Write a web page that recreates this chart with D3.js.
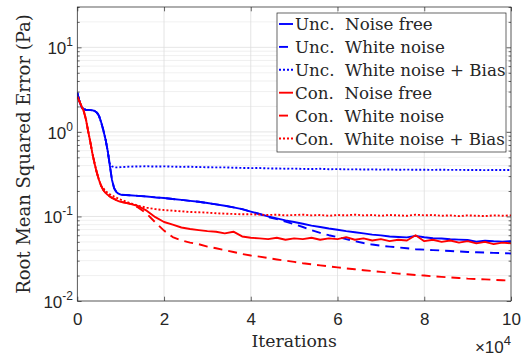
<!DOCTYPE html>
<html><head><meta charset="utf-8">
<script src="https://cdn.jsdelivr.net/npm/d3@7"></script>
<style>body{margin:0;background:#fff}</style>
</head><body><svg id="c" width="521" height="360"></svg>
<script>
// Iterations (x 10^4)
const iters = [0,0.05,0.1,0.15,0.2,0.25,0.3,0.35,0.4,0.45,0.5,0.55,0.6,0.65,0.7,0.75,0.8,0.85,0.9,0.95,1.0,
  1.2,1.4,1.6,1.8,2.0,2.2,2.4,2.6,2.8,3.0,3.2,3.4,3.6,3.8,4.0,4.2,4.4,4.6,4.8,5.0,5.2,5.4,5.6,5.8,6.0,
  6.2,6.4,6.6,6.8,7.0,7.2,7.4,7.6,7.8,8.0,8.2,8.4,8.6,8.8,9.0,9.2,9.4,9.6,9.8,10];

const uncNoiseFree = [2.9,2.3,1.95,1.85,1.83,1.82,1.81,1.8,1.77,1.7,1.55,1.3,1.05,0.82,0.6,0.4,0.27,0.215,0.195,0.186,0.181,
  0.178,0.175,0.172,0.168,0.165,0.161,0.157,0.153,0.149,0.144,0.139,0.134,0.128,0.122,0.114,0.107,0.1,0.095,0.09,0.086,
  0.082,0.078,0.075,0.072,0.0695,0.067,0.065,0.063,0.061,0.0598,0.058,0.0572,0.0565,0.059,0.0568,0.0552,0.0548,0.0538,
  0.0532,0.0526,0.0502,0.0516,0.0508,0.0504,0.051];

const uncWhiteNoise = [2.9,2.3,1.95,1.85,1.83,1.82,1.81,1.8,1.77,1.7,1.55,1.3,1.05,0.82,0.6,0.4,0.27,0.215,0.195,0.186,0.181,
  0.178,0.175,0.172,0.168,0.165,0.161,0.157,0.153,0.149,0.144,0.139,0.134,0.128,0.122,0.114,0.107,0.098,0.093,0.087,0.081,
  0.075,0.069,0.064,0.06,0.057,0.054,0.051,0.0485,0.0465,0.045,0.044,0.043,0.042,0.041,0.0405,0.04,0.0395,0.039,
  0.0385,0.038,0.0377,0.0374,0.0371,0.0368,0.0365];

const uncWhiteNoiseBias = [2.9,2.3,1.95,1.85,1.83,1.82,1.81,1.8,1.77,1.7,1.55,1.3,1.05,0.82,0.6,0.42,0.39,0.382,0.38,0.381,0.383,
  0.388,0.39,0.392,0.389,0.391,0.388,0.386,0.387,0.384,0.382,0.38,0.381,0.377,0.375,0.373,0.374,0.37,0.369,0.367,0.368,
  0.365,0.364,0.366,0.362,0.363,0.36,0.361,0.359,0.36,0.358,0.359,0.357,0.358,0.356,0.357,0.355,0.357,0.355,0.356,
  0.354,0.355,0.353,0.355,0.354,0.355];

const conNoiseFree = [2.6,2.3,2.0,1.75,1.4,1.02,0.76,0.55,0.42,0.33,0.27,0.23,0.205,0.19,0.18,0.172,0.166,0.161,0.156,0.152,0.149,
  0.142,0.133,0.117,0.098,0.086,0.08,0.074,0.071,0.069,0.067,0.066,0.063,0.066,0.058,0.056,0.055,0.054,0.056,0.053,0.055,
  0.054,0.056,0.053,0.055,0.054,0.057,0.053,0.055,0.052,0.054,0.051,0.053,0.052,0.06,0.051,0.053,0.05,0.052,0.049,
  0.051,0.048,0.05,0.047,0.049,0.048];

const conWhiteNoise = [2.6,2.3,2.0,1.75,1.4,1.02,0.76,0.55,0.42,0.33,0.27,0.23,0.205,0.19,0.18,0.172,0.166,0.161,0.156,0.152,0.149,
  0.142,0.128,0.108,0.085,0.068,0.057,0.052,0.049,0.047,0.044,0.042,0.04,0.038,0.036,0.0345,0.0335,0.0322,0.031,0.03,0.029,
  0.028,0.0272,0.0264,0.0257,0.025,0.0243,0.0237,0.0231,0.0226,0.0221,0.0216,0.0211,0.0207,0.0203,0.02,0.0196,0.0193,
  0.019,0.0187,0.0184,0.0182,0.018,0.0178,0.0176,0.0174];

const conWhiteNoiseBias = [2.6,2.3,2.0,1.75,1.4,1.02,0.76,0.55,0.42,0.33,0.27,0.23,0.215,0.2,0.19,0.183,0.177,0.172,0.167,0.162,0.158,
  0.145,0.134,0.127,0.122,0.119,0.117,0.115,0.113,0.112,0.111,0.109,0.108,0.107,0.106,0.106,0.105,0.104,0.105,0.103,0.104,
  0.105,0.103,0.104,0.102,0.104,0.103,0.105,0.103,0.104,0.102,0.104,0.103,0.102,0.105,0.103,0.104,0.102,0.103,0.101,
  0.103,0.102,0.101,0.103,0.102,0.103];

const seriesNames = ["Unc.  Noise free","Unc.  White noise","Unc.  White noise + Bias",
                     "Con.  Noise free","Con.  White noise","Con.  White noise + Bias"];
const seriesValues = [uncNoiseFree,uncWhiteNoise,uncWhiteNoiseBias,conNoiseFree,conWhiteNoise,conWhiteNoiseBias];
const seriesColors = ["#0000ff","#0000ff","#0000ff","#ff0000","#ff0000","#ff0000"];
const seriesDash = [null,"9,6","2,2",null,"9,6","2,2"];

const xTicks = [0,2,4,6,8,10];
const yTickExps = [-2,-1,0,1];
const xLabel = "Iterations";
const yLabel = "Root Mean Squared Error (Pa)";

const svg = d3.select("#c");
const L=77.3, R=511, T=7, B=301;
const x = d3.scaleLinear().domain([0,10]).range([L,R]);
const y = d3.scaleLog().domain([0.01,30]).range([B,T]);

svg.append("rect").attr("x",0).attr("y",0).attr("width",521).attr("height",360).attr("fill","#fff");

const minorVals=[], majorVals=[];
for (let e=-2;e<=1;e++){ majorVals.push(Math.pow(10,e)); for(let k=2;k<=9;k++){const v=k*Math.pow(10,e); if(v<=30) minorVals.push(v);} }

const grid = svg.append("g");
grid.selectAll(".mn").data(minorVals).join("line")
  .attr("x1",L).attr("x2",R).attr("y1",d=>y(d)).attr("y2",d=>y(d))
  .attr("stroke","#ececec").attr("stroke-width",0.8);
grid.selectAll(".mj").data(majorVals).join("line")
  .attr("x1",L).attr("x2",R).attr("y1",d=>y(d)).attr("y2",d=>y(d))
  .attr("stroke","#dedede").attr("stroke-width",0.8);
grid.selectAll(".vx").data(xTicks).join("line")
  .attr("x1",d=>x(d)).attr("x2",d=>x(d)).attr("y1",T).attr("y2",B)
  .attr("stroke","#dedede").attr("stroke-width",0.8);

svg.append("clipPath").attr("id","clip").append("rect").attr("x",L).attr("y",T).attr("width",R-L).attr("height",B-T);

const line = d3.line().x((d,i)=>x(iters[i])).y(d=>y(d));
const plot = svg.append("g").attr("clip-path","url(#clip)");
seriesValues.forEach((vals,i)=>{
  plot.append("path").datum(vals).attr("d",line)
    .attr("fill","none").attr("stroke",seriesColors[i]).attr("stroke-width",1.9)
    .attr("stroke-dasharray",seriesDash[i]).attr("stroke-linejoin","round");
});

const axCol="#262626";
const tickFont = "'Liberation Sans', Arial, sans-serif";
const gBottom = svg.append("g").attr("transform",`translate(0,${B})`)
  .call(d3.axisBottom(x).tickValues(xTicks).tickSize(-4.3).tickPadding(12).tickFormat(d3.format("d")));
const gTop = svg.append("g").attr("transform",`translate(0,${T})`)
  .call(d3.axisTop(x).tickValues(xTicks).tickSize(-4.3).tickFormat(""));
const gLeft = svg.append("g").attr("transform",`translate(${L},0)`)
  .call(d3.axisLeft(y).tickValues(majorVals).tickSize(-4.3).tickFormat(""));
const gRight = svg.append("g").attr("transform",`translate(${R},0)`)
  .call(d3.axisRight(y).tickValues(majorVals).tickSize(-4.3).tickFormat(""));
const gLeftMinor = svg.append("g").attr("transform",`translate(${L},0)`)
  .call(d3.axisLeft(y).tickValues(minorVals).tickSize(-2.4).tickFormat(""));
const gRightMinor = svg.append("g").attr("transform",`translate(${R},0)`)
  .call(d3.axisRight(y).tickValues(minorVals).tickSize(-2.4).tickFormat(""));
[gBottom,gTop,gLeft,gRight,gLeftMinor,gRightMinor].forEach(g=>{
  g.select(".domain").remove();
  g.selectAll("line").attr("stroke",axCol).attr("stroke-width",0.7);
});
gBottom.selectAll("text").attr("font-family",tickFont).attr("font-size",17).attr("fill","#262626");

svg.append("rect").attr("x",L).attr("y",T).attr("width",R-L).attr("height",B-T)
  .attr("fill","none").attr("stroke",axCol).attr("stroke-width",0.7);

yTickExps.forEach(e=>{
  const t = svg.append("text").attr("x",73).attr("y",y(Math.pow(10,e))+7)
    .attr("text-anchor","end").attr("font-family",tickFont).attr("font-size",17).attr("fill","#262626");
  t.append("tspan").text("10");
  t.append("tspan").attr("font-size",12).attr("dy",-8).text(e<0?"-"+Math.abs(e):String(e));
});

const mult = svg.append("text").attr("x",511).attr("y",353).attr("text-anchor","end")
  .attr("font-family",tickFont).attr("font-size",17).attr("fill","#262626");
mult.append("tspan").text("\u00d710");
mult.append("tspan").attr("font-size",13).attr("dy",-8).text("4");

const serif = "'DejaVu Serif', serif";
svg.append("text").attr("x",(L+R)/2).attr("y",347).attr("text-anchor","middle")
  .attr("font-family",serif).attr("font-size",17.3).attr("fill","#262626").text(xLabel);
svg.append("text").attr("transform",`translate(30,${(T+B)/2}) rotate(-90)`).attr("text-anchor","middle")
  .attr("font-family",serif).attr("font-size",18).attr("fill","#262626").text(yLabel);

const lg = svg.append("g");
lg.append("rect").attr("x",277).attr("y",13).attr("width",229).attr("height",139)
  .attr("fill","#fff").attr("stroke",axCol).attr("stroke-width",0.7);
seriesNames.forEach((n,i)=>{
  const cy = 24 + i*22.9;
  lg.append("line").attr("x1",279).attr("x2",293).attr("y1",cy).attr("y2",cy)
    .attr("stroke",seriesColors[i]).attr("stroke-width",1.9).attr("stroke-dasharray",seriesDash[i]);
  lg.append("text").attr("x",295).attr("y",cy+6).attr("font-family",serif).attr("font-size",16.7)
    .attr("fill","#262626").style("white-space","pre").text(n);
});
</script></body></html>
